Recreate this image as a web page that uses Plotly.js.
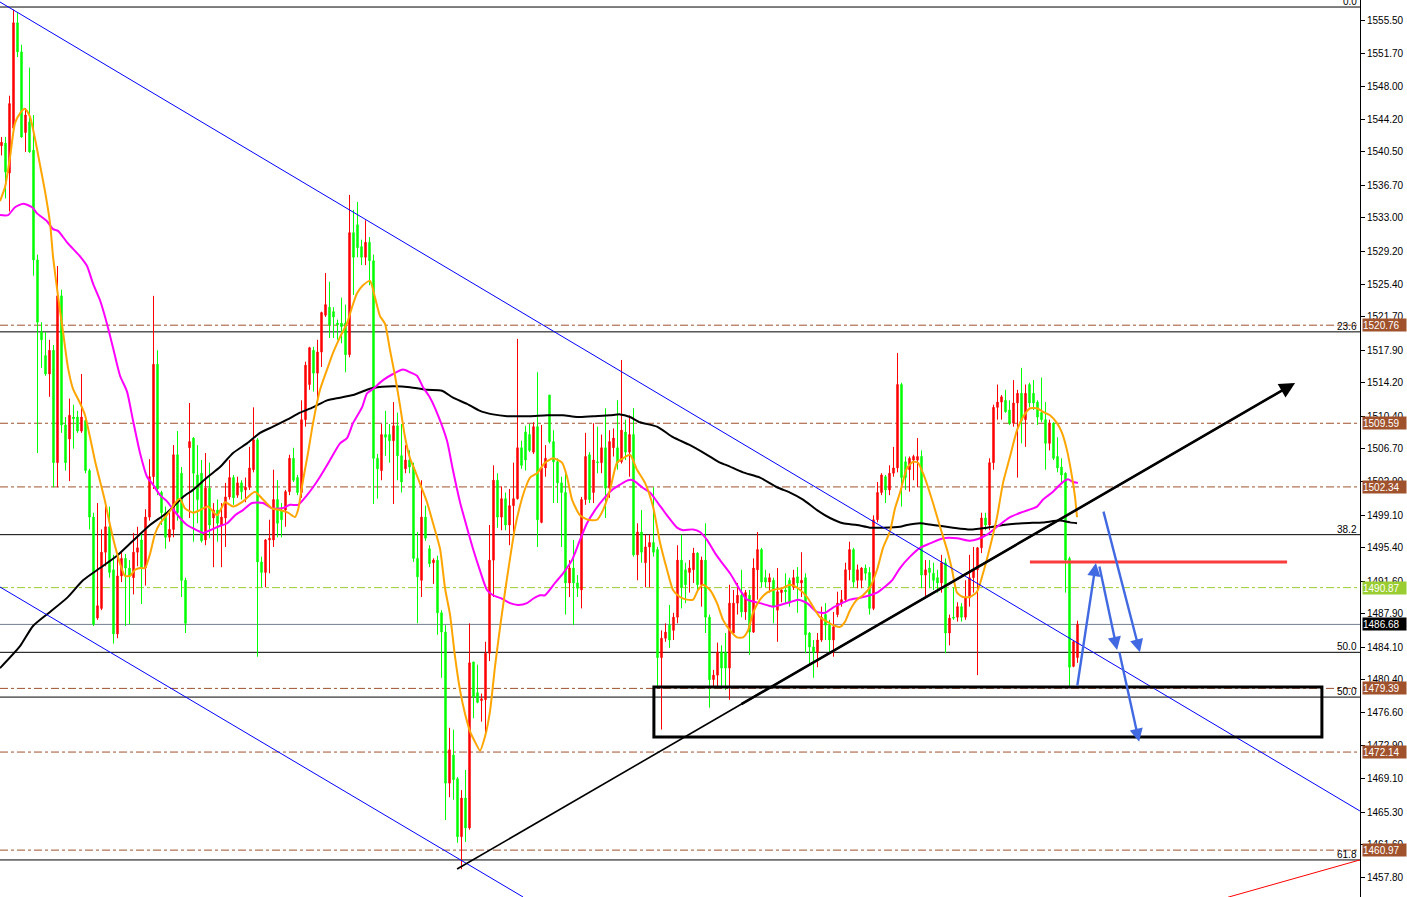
<!DOCTYPE html>
<html><head><meta charset="utf-8">
<script src="https://cdn.plot.ly/plotly-3.0.1.min.js"></script>
<style>html,body{margin:0;padding:0;background:#fff;overflow:hidden}#chart{width:1407px;height:897px}</style>
</head><body><div id="chart"></div>
<script>
const openP = [
1541.2,1541.5,1538.1,1543.2,1555.2,1551.9,1542.7,1543.9,1540.7,1528.2,
1520.0,1517.3,1515.2,1517.9,1505.1,1524.1,1509.4,1507.8,1510.3,1510.3,
1508.7,1509.9,1504.2,1498.9,1487.4,1488.5,1494.9,1497.8,1492.9,1485.6,
1492.2,1494.2,1493.1,1492.0,1494.9,1496.3,1493.1,1498.9,1503.5,1516.3,
1501.7,1499.4,1496.6,1497.5,1506.0,1503.9,1491.7,1506.8,1507.9,1503.7,
1503.9,1496.3,1502.2,1498.8,1499.7,1498.0,1498.8,1501.2,1503.4,1501.4,
1502.8,1502.0,1502.3,1504.3,1507.7,1493.8,1492.6,1496.3,1496.3,1500.9,
1499.7,1499.7,1501.8,1505.6,1503.4,1501.7,1510.0,1514.0,1517.9,1515.3,
1517.7,1521.9,1522.8,1522.3,1521.0,1521.0,1521.0,1517.4,1531.3,1532.2,
1529.7,1528.5,1530.2,1528.1,1505.6,1504.2,1508.3,1508.3,1507.6,1509.3,
1505.9,1504.4,1505.4,1504.6,1494.2,1491.7,1498.9,1495.3,1493.7,1494.0,
1488.0,1485.8,1468.6,1471.8,1469.1,1462.5,1466.9,1463.5,1482.4,1478.9,
1478.0,1478.1,1483.4,1494.0,1503.1,1498.9,1501.0,1498.0,1500.2,1501.0,
1506.8,1508.6,1508.3,1506.3,1509.2,1498.3,1504.5,1512.8,1507.5,1505.2,
1502.8,1501.7,1491.4,1493.1,1491.4,1490.6,1500.9,1506.0,1501.7,1505.2,
1505.1,1506.8,1502.2,1506.8,1506.8,1505.2,1508.6,1506.3,1508.3,1494.6,
1497.2,1493.7,1495.5,1496.0,1495.2,1482.9,1485.1,1486.6,1486.0,1487.5,
1494.0,1492.9,1492.6,1492.9,1494.8,1491.2,1494.0,1487.5,1480.4,1480.9,
1483.5,1483.5,1481.7,1485.7,1489.1,1490.0,1488.1,1490.0,1485.8,1492.9,
1495.2,1492.0,1491.5,1491.7,1488.3,1490.3,1490.6,1491.7,1490.9,1492.1,
1491.4,1492.0,1485.7,1484.1,1483.5,1484.9,1487.8,1486.6,1484.9,1487.8,
1489.1,1489.5,1492.9,1495.2,1491.7,1491.7,1493.1,1492.6,1488.5,1498.6,
1501.7,1503.5,1502.0,1503.9,1504.5,1514.0,1505.2,1504.3,1505.4,1505.4,
1505.8,1492.3,1493.1,1492.5,1492.0,1491.4,1493.7,1485.7,1487.5,1487.5,
1488.7,1487.5,1489.7,1492.0,1492.9,1495.4,1498.8,1498.0,1505.1,1511.4,
1512.0,1512.2,1511.1,1509.6,1511.9,1513.0,1510.0,1514.0,1513.0,1512.0,
1510.8,1510.0,1507.3,1509.6,1505.8,1504.6,1503.9,1494.2,1481.9,1482.9];
const highP = [
1542.2,1542.2,1546.9,1556.7,1556.3,1552.7,1545.5,1550.1,1544.7,1528.8,
1521.1,1520.0,1519.1,1518.5,1527.5,1524.8,1510.3,1512.4,1511.7,1511.0,
1515.2,1510.5,1504.4,1499.4,1500.5,1497.5,1500.7,1500.1,1494.6,1494.7,
1494.9,1494.7,1494.0,1497.1,1497.8,1497.1,1499.8,1505.5,1524.1,1517.9,
1501.9,1500.1,1499.4,1507.1,1508.7,1504.6,1492.0,1511.9,1508.0,1507.1,
1505.4,1506.2,1505.1,1500.5,1500.9,1500.5,1502.8,1505.4,1503.7,1503.5,
1503.1,1503.4,1506.9,1511.4,1507.9,1494.4,1496.4,1498.6,1504.3,1503.1,
1500.5,1502.0,1506.0,1506.8,1503.7,1512.2,1516.6,1518.3,1518.3,1519.1,
1522.3,1526.7,1525.7,1522.8,1521.4,1523.9,1523.1,1535.6,1533.9,1534.8,
1530.5,1532.7,1530.8,1528.8,1506.1,1509.5,1511.0,1509.5,1512.0,1510.8,
1509.5,1507.1,1506.5,1505.1,1497.2,1503.1,1500.2,1495.7,1494.2,1494.5,
1488.3,1486.6,1474.9,1474.7,1469.3,1467.8,1470.1,1486.8,1482.4,1482.1,
1478.8,1484.7,1498.0,1504.8,1503.9,1502.4,1501.7,1502.1,1505.1,1519.2,
1507.6,1509.3,1509.5,1509.7,1515.4,1509.4,1507.1,1512.8,1508.8,1505.6,
1503.5,1503.9,1494.0,1496.3,1492.3,1501.2,1508.5,1506.3,1509.6,1509.2,
1508.3,1511.3,1508.8,1509.0,1512.2,1516.8,1510.0,1510.5,1511.3,1498.2,
1499.7,1496.9,1496.9,1502.3,1495.5,1486.0,1486.8,1488.9,1488.0,1495.7,
1496.9,1493.7,1494.0,1495.4,1494.9,1494.4,1498.2,1487.8,1481.5,1484.6,
1484.3,1485.7,1491.2,1490.6,1491.4,1492.9,1490.6,1490.6,1494.2,1497.2,
1495.4,1492.9,1492.5,1492.0,1493.1,1490.9,1492.5,1492.0,1492.9,1493.2,
1494.9,1492.5,1485.8,1484.9,1485.7,1488.7,1489.1,1487.2,1488.1,1490.4,
1490.6,1493.7,1496.1,1495.4,1493.5,1493.2,1493.5,1493.2,1499.1,1502.9,
1503.9,1503.7,1504.8,1506.9,1517.6,1514.2,1505.8,1505.8,1506.0,1507.9,
1506.5,1494.0,1494.0,1493.7,1492.9,1494.6,1494.2,1487.8,1490.9,1489.2,
1489.1,1491.7,1494.6,1495.5,1495.5,1499.4,1499.4,1505.6,1511.7,1514.0,
1512.8,1513.4,1512.2,1514.5,1513.4,1515.9,1514.0,1514.2,1514.5,1512.2,
1514.8,1512.0,1510.0,1509.7,1508.0,1505.6,1504.0,1494.4,1484.9,1487.1];
const lowP = [
1540.1,1535.2,1533.7,1542.4,1551.3,1542.1,1540.5,1540.4,1526.4,1506.2,
1515.9,1515.0,1512.6,1502.3,1502.3,1508.5,1504.2,1503.0,1506.7,1508.5,
1508.5,1503.9,1497.5,1486.5,1487.2,1488.3,1493.3,1492.0,1484.5,1485.1,
1491.5,1486.5,1486.7,1490.1,1493.3,1489.0,1491.1,1498.5,1502.1,1501.4,
1498.0,1495.3,1496.1,1496.6,1498.5,1489.8,1485.7,1498.8,1496.1,1498.2,
1496.0,1495.7,1496.5,1493.2,1496.1,1493.2,1495.5,1500.9,1500.3,1501.1,
1500.9,1500.6,1502.0,1504.0,1483.0,1490.9,1490.9,1492.5,1495.5,1496.6,
1496.6,1497.8,1501.4,1502.9,1501.4,1501.1,1509.2,1513.4,1513.2,1512.2,
1516.0,1521.7,1519.3,1519.3,1519.1,1518.7,1515.4,1517.1,1524.2,1528.5,
1527.6,1527.6,1525.3,1500.4,1501.0,1503.1,1505.9,1505.1,1500.4,1503.1,
1501.7,1503.9,1503.9,1493.8,1486.8,1489.8,1496.2,1493.2,1491.3,1485.5,
1480.6,1464.4,1467.0,1466.7,1461.8,1458.8,1461.9,1463.3,1476.0,1477.7,
1475.6,1474.4,1482.5,1489.8,1497.7,1497.4,1497.4,1495.7,1497.2,1500.9,
1504.4,1504.2,1506.3,1506.1,1495.5,1498.2,1503.5,1507.3,1500.5,1500.5,
1495.5,1487.8,1489.8,1486.6,1489.8,1488.5,1500.3,1500.5,1500.5,1503.9,
1503.9,1498.8,1501.1,1505.8,1504.3,1505.0,1505.4,1503.5,1494.4,1491.7,
1493.7,1490.9,1490.9,1494.4,1479.6,1474.7,1484.7,1484.0,1484.9,1486.8,
1488.5,1489.1,1490.3,1491.4,1490.6,1488.7,1485.7,1477.2,1479.6,1479.4,
1479.6,1479.2,1478.1,1485.5,1487.8,1487.5,1487.2,1483.2,1485.7,1489.5,
1490.9,1490.9,1490.3,1486.8,1484.7,1489.2,1489.1,1488.7,1490.6,1488.0,
1489.8,1483.4,1482.1,1480.6,1481.8,1484.7,1484.9,1483.5,1483.0,1487.5,
1488.7,1489.2,1491.7,1490.9,1490.8,1490.8,1491.7,1487.8,1488.3,1498.3,
1501.4,1500.5,1501.4,1503.5,1504.0,1500.1,1502.0,1501.8,1503.1,1502.3,
1490.8,1489.8,1490.8,1490.6,1490.3,1490.3,1483.4,1484.3,1487.2,1487.0,
1487.0,1487.2,1488.7,1490.3,1480.9,1494.8,1497.4,1497.4,1504.3,1510.0,
1510.0,1510.8,1509.4,1509.2,1503.4,1507.3,1506.9,1511.4,1511.1,1509.4,
1509.7,1504.3,1506.5,1505.4,1504.0,1502.8,1490.3,1479.6,1481.8,1482.3];
const closeP = [
1541.6,1538.2,1546.0,1555.2,1551.9,1542.2,1544.7,1540.5,1528.2,1521.1,
1519.1,1515.2,1517.9,1505.1,1524.1,1509.4,1505.1,1510.5,1510.1,1508.7,
1510.3,1504.2,1498.9,1486.7,1488.8,1494.9,1497.8,1492.6,1485.6,1492.2,
1494.2,1493.1,1492.2,1494.9,1495.4,1493.1,1498.9,1503.5,1516.3,1502.1,
1499.4,1496.6,1497.5,1506.0,1499.4,1491.7,1486.8,1507.5,1503.9,1500.9,
1496.2,1502.2,1498.0,1499.7,1498.2,1498.9,1501.2,1503.4,1501.1,1502.8,
1501.8,1502.3,1504.5,1507.7,1493.8,1492.6,1496.3,1496.5,1500.9,1498.2,
1498.6,1501.8,1505.6,1503.1,1501.7,1510.0,1516.2,1518.2,1515.3,1517.7,
1522.2,1523.1,1520.8,1521.7,1520.8,1520.6,1517.4,1531.3,1528.5,1529.6,
1528.5,1530.2,1528.1,1505.6,1504.4,1508.3,1508.0,1507.6,1509.3,1505.9,
1502.9,1505.4,1504.6,1494.2,1492.1,1498.9,1496.5,1493.6,1494.0,1488.0,
1485.8,1468.6,1472.4,1469.0,1462.5,1466.9,1463.5,1482.3,1478.4,1477.8,
1478.2,1483.4,1494.0,1503.1,1498.9,1501.0,1498.0,1500.2,1501.0,1506.8,
1504.8,1505.4,1506.5,1509.2,1498.6,1504.5,1505.6,1507.5,1505.2,1502.8,
1501.7,1491.4,1493.1,1491.4,1490.8,1500.9,1505.8,1500.9,1505.4,1505.1,
1506.8,1502.2,1507.5,1507.9,1505.1,1508.8,1506.3,1508.3,1494.6,1497.2,
1494.9,1495.5,1496.0,1494.9,1482.9,1485.1,1485.8,1484.9,1487.5,1494.0,
1490.9,1491.2,1493.1,1494.8,1491.2,1494.0,1487.5,1480.4,1480.9,1483.5,
1481.7,1481.7,1489.1,1489.1,1490.0,1488.1,1490.3,1485.8,1493.1,1495.2,
1491.5,1491.5,1492.0,1488.7,1490.4,1490.6,1490.4,1489.2,1492.0,1491.4,
1491.7,1485.5,1484.1,1483.5,1484.9,1487.5,1486.6,1484.9,1486.4,1489.1,
1489.5,1492.9,1495.2,1491.5,1492.9,1493.1,1492.5,1488.5,1498.6,1501.7,
1503.7,1502.0,1503.9,1504.5,1514.0,1503.4,1503.4,1505.6,1505.8,1505.8,
1492.3,1492.9,1492.6,1491.7,1491.4,1493.7,1485.7,1487.4,1487.4,1488.7,
1487.5,1489.7,1492.0,1492.9,1495.4,1498.8,1498.0,1505.1,1511.4,1512.0,
1512.6,1510.9,1509.6,1511.9,1513.0,1509.9,1513.0,1511.9,1511.9,1510.3,
1510.0,1507.3,1509.6,1505.6,1504.5,1503.7,1494.0,1481.8,1484.7,1486.68];

// moving averages (bar index, price)
const maFastX = [-0.38,0.88,2.13,3.38,4.63,5.88,7.13,8.38,9.63,10.88,12.13,12.88,14.13,15.38,16.63,17.88,19.63,20.88,22.13,23.38,24.63,25.88,27.13,28.38,29.63,30.88,32.13,33.38,34.63,35.88,37.13,38.38,39.63,40.88,42.13,43.38,44.63,45.88,47.88,49.63,51.63,53.88,55.88,57.88,60.13,62.13,63.38,65.38,67.63,69.63,71.63,73.38,74.13,75.38,76.63,77.88,79.63,81.38,82.88,84.63,86.38,87.63,88.88,90.38,92.13,93.38,94.63,95.88,97.13,98.38,99.63,100.88,102.13,103.38,104.63,106.38,107.88,109.63,110.88,112.13,113.38,114.63,115.88,117.13,118.38,119.63,120.88,122.13,123.38,124.63,125.88,127.13,128.38,129.63,130.88,132.13,133.88,135.88,137.88,140.13,141.38,142.63,144.63,146.63,148.88,150.38,152.13,153.88,155.38,157.13,158.88,160.88,162.88,164.63,166.38,167.88,169.63,171.38,172.88,174.13,175.38,177.13,178.88,180.38,182.13,183.88,185.38,186.63,187.88,189.63,191.38,192.88,195.13,197.13,199.13,201.38,202.88,204.63,206.38,207.88,209.63,210.88,212.13,213.88,215.38,217.13,218.88,220.38,222.13,223.38,224.63,226.38,227.88,229.13,230.38,231.63,232.88,234.63,236.38,237.63,238.88,240.38,242.13,243.88,245.38,247.13,248.88,250.38,252.13,253.88,255.38,257.13,258.88,260.38,262.13,263.88,265.13,266.38,267.63,268.38,268.88];
const maFastY = [1534.9,1536.5,1539.9,1543.8,1544.9,1545.4,1544.5,1542.0,1539.0,1536.0,1532.4,1528.6,1524.1,1520.0,1515.9,1513.5,1511.9,1510.5,1508.0,1505.3,1503.0,1500.7,1498.0,1495.6,1493.6,1492.2,1492.2,1492.9,1493.1,1493.1,1494.7,1497.0,1498.2,1498.9,1499.6,1500.5,1501.0,1499.9,1499.4,1499.7,1500.1,1499.1,1500.6,1500.1,1500.6,1501.4,1501.8,1500.9,1499.9,1499.7,1499.4,1498.9,1499.7,1503.1,1506.2,1509.6,1513.4,1515.7,1517.6,1519.4,1521.0,1522.8,1524.4,1525.3,1525.8,1523.9,1521.8,1520.9,1517.9,1515.0,1511.6,1508.0,1505.6,1504.2,1502.7,1500.6,1498.2,1495.3,1490.8,1487.8,1483.0,1479.2,1476.5,1474.5,1473.3,1472.3,1473.9,1476.8,1481.9,1486.3,1490.4,1494.2,1497.7,1500.2,1502.1,1503.4,1503.9,1505.1,1505.6,1505.1,1503.5,1500.9,1499.1,1498.6,1498.6,1499.7,1502.0,1505.1,1505.6,1506.0,1504.3,1502.8,1500.1,1496.0,1492.9,1490.6,1489.8,1489.5,1489.5,1490.6,1491.2,1490.6,1489.1,1487.2,1486.0,1485.2,1485.2,1486.0,1488.0,1489.5,1490.3,1490.6,1490.8,1491.2,1490.8,1489.8,1488.7,1487.5,1487.0,1486.6,1486.4,1487.0,1488.3,1489.5,1490.0,1490.9,1492.9,1495.4,1497.3,1499.9,1501.7,1504.5,1505.2,1505.1,1503.9,1502.3,1500.5,1497.8,1495.2,1492.9,1490.3,1489.8,1489.8,1490.4,1492.5,1495.5,1498.9,1502.8,1505.8,1508.8,1510.3,1511.3,1511.3,1510.9,1510.5,1509.6,1508.5,1506.5,1503.5,1501.2,1498.9];
const maMidX = [-0.38,1.63,3.38,5.38,7.63,8.88,11.38,12.88,14.13,16.38,19.63,21.38,22.88,24.63,26.38,27.88,29.63,31.38,32.88,34.63,36.38,37.88,39.63,41.38,42.88,44.63,46.38,48.88,50.38,52.13,54.13,56.38,58.38,60.38,62.63,65.38,67.63,70.13,72.13,74.13,76.38,77.88,79.63,82.13,84.63,86.38,87.88,90.13,91.38,92.88,95.38,97.88,100.38,102.13,103.88,105.38,107.13,109.13,111.38,112.88,114.63,116.38,117.88,119.63,121.38,122.88,125.13,127.13,129.13,131.38,132.88,134.63,135.88,138.38,140.38,142.63,144.63,146.38,148.38,150.38,152.63,154.63,156.63,157.88,160.13,162.13,164.13,166.38,168.88,170.38,172.88,174.63,176.38,178.38,179.63,182.13,184.63,186.38,189.63,192.88,194.63,197.13,199.13,201.38,203.88,205.88,207.88,210.13,212.13,214.63,217.13,218.88,220.38,222.63,224.63,227.13,229.63,232.13,235.38,238.88,242.13,244.13,246.38,248.88,252.13,255.38,258.88,260.38,262.88,265.13,266.63,267.88,269.13];
const maMidY = [1533.3,1533.3,1534.2,1534.6,1534.2,1533.5,1532.6,1531.7,1531.5,1530.2,1528.6,1527.5,1525.5,1523.6,1520.9,1518.2,1515.0,1513.2,1509.9,1506.2,1503.5,1502.6,1501.4,1500.7,1499.8,1498.8,1498.0,1497.4,1497.1,1497.4,1497.8,1498.2,1499.1,1499.7,1500.5,1500.5,1499.9,1499.9,1500.3,1500.3,1501.4,1502.3,1503.5,1505.4,1507.3,1507.9,1509.6,1511.4,1513.0,1513.5,1514.5,1515.2,1515.7,1515.4,1515.0,1513.7,1512.5,1510.5,1507.6,1504.2,1500.6,1497.7,1495.3,1492.8,1490.6,1490.0,1489.6,1489.1,1488.9,1489.1,1489.6,1490.0,1490.0,1491.4,1492.5,1494.0,1496.3,1498.2,1499.7,1500.9,1502.0,1502.6,1503.1,1503.1,1502.3,1501.7,1500.5,1499.1,1497.7,1497.4,1497.5,1497.2,1496.3,1494.8,1494.0,1492.5,1490.6,1489.5,1489.1,1488.7,1488.9,1489.2,1489.5,1489.1,1488.1,1488.0,1488.6,1489.1,1489.5,1489.7,1490.0,1490.3,1490.8,1491.7,1493.1,1494.4,1495.4,1495.9,1496.5,1496.5,1496.2,1496.4,1496.9,1497.8,1498.9,1499.5,1500.1,1500.9,1501.8,1502.8,1503.2,1502.9,1502.8];
const maSlowX = [-0.38,4.63,7.88,12.13,16.38,20.38,24.63,28.88,32.88,37.13,41.38,45.38,47.88,51.38,54.63,57.88,61.38,64.63,67.88,71.38,74.63,77.88,81.38,84.63,87.88,91.38,92.88,97.88,102.13,106.38,110.13,112.88,116.38,119.63,122.88,126.38,129.63,132.13,136.38,140.38,143.88,147.88,152.13,154.63,157.13,159.63,163.88,167.88,172.13,176.38,179.63,181.38,185.38,189.63,193.88,197.13,200.38,203.88,207.13,210.38,213.88,217.13,220.38,224.63,226.38,229.63,232.88,237.88,242.13,246.38,250.38,255.38,260.38,264.63,267.13,268.88];
const maSlowY = [1481.7,1484.2,1486.5,1488.1,1489.7,1491.7,1493.1,1494.5,1496.2,1498.0,1499.4,1501.2,1502.0,1503.4,1504.6,1506.2,1507.3,1508.5,1509.2,1510.0,1510.8,1511.4,1512.2,1512.5,1512.8,1513.4,1513.6,1513.8,1513.7,1513.4,1513.3,1512.5,1511.8,1511.0,1510.6,1510.4,1510.4,1510.4,1510.5,1510.5,1510.3,1510.4,1510.5,1510.6,1510.3,1509.7,1509.2,1508.0,1507.1,1506.0,1505.1,1504.8,1504.0,1503.4,1502.3,1501.7,1500.9,1499.7,1498.8,1498.2,1498.0,1497.7,1497.7,1497.8,1498.0,1498.2,1498.0,1497.7,1497.5,1497.7,1498.0,1498.2,1498.3,1498.5,1498.3,1498.2];

const tickVals = [1555.50,1551.70,1548.00,1544.20,1540.50,1536.70,1533.00,1529.20,1525.40,1521.70,1517.90,1514.20,1510.40,1506.70,1502.90,1499.10,1495.40,1491.60,1487.90,1484.10,1480.40,1476.60,1472.90,1469.10,1465.30,1461.60,1457.80];
const fibLevels = [1557.0,1520.0,1496.9,1483.5,1478.4,1459.85];
const fibLabels = ['0.0','23.6','38.2','50.0','50.0','61.8'];
const brownLevels = [1520.76,1509.59,1502.34,1479.39,1472.14,1460.97];
const greenLevel = 1490.87;
const bidLevel = 1486.68;

const idx = openP.map((_, i) => i);
const BROWN = 'rgb(160,82,45)';
const BLUE_ARROW = 'rgb(65,105,225)';

const traces = [
  {type:'candlestick', x: idx, open: openP, high: highP, low: lowP, close: closeP,
   increasing:{line:{color:'#ff0000', width:1}, fillcolor:'#ff0000'},
   decreasing:{line:{color:'#00ff00', width:1}, fillcolor:'#00ff00'},
   whiskerwidth:0, hoverinfo:'skip', showlegend:false},
  {type:'scatter', mode:'lines', x: maSlowX, y: maSlowY, line:{color:'#000000', width:2, shape:'spline', smoothing:0.6}, hoverinfo:'skip', showlegend:false},
  {type:'scatter', mode:'lines', x: maMidX, y: maMidY, line:{color:'#ff00ff', width:2, shape:'spline', smoothing:0.6}, hoverinfo:'skip', showlegend:false},
  {type:'scatter', mode:'lines', x: maFastX, y: maFastY, line:{color:'#ffa500', width:2, shape:'spline', smoothing:0.6}, hoverinfo:'skip', showlegend:false}
];

const shapes = [];
fibLevels.forEach(v => shapes.push({type:'line', xref:'paper', x0:0, x1:1, yref:'y', y0:v, y1:v, line:{color:'#000', width:1}, layer:'below'}));
brownLevels.forEach(v => shapes.push({type:'line', xref:'paper', x0:0, x1:1, yref:'y', y0:v, y1:v, line:{color:BROWN, width:1, dash:'8px,3px,3px,3px'}, layer:'below'}));
shapes.push({type:'line', xref:'paper', x0:0, x1:1, yref:'y', y0:greenLevel, y1:greenLevel, line:{color:'rgb(154,205,50)', width:1, dash:'8px,3px,3px,3px'}, layer:'below'});
shapes.push({type:'line', xref:'paper', x0:0, x1:1, yref:'y', y0:bidLevel, y1:bidLevel, line:{color:'rgb(112,128,144)', width:1}, layer:'below'});
// channel lines
shapes.push({type:'line', xref:'x', yref:'y', x0:-0.375, y0:1557.57, x1:339.6, y1:1465.43, line:{color:'#0000ff', width:1}});
shapes.push({type:'line', xref:'x', yref:'y', x0:-0.375, y0:1490.94, x1:130.4, y1:1455.63, line:{color:'#0000ff', width:1}});
// up trend line
shapes.push({type:'line', xref:'x', yref:'y', x0:113.9, y0:1458.82, x1:322.0, y1:1513.8, line:{color:'#000', width:1.6}});
// zone rectangle
shapes.push({type:'rect', xref:'x', yref:'y', x0:163.1, x1:330.1, y0:1473.86, y1:1479.55, line:{color:'#000', width:3}, fillcolor:'rgba(0,0,0,0)'});
// red resistance line
shapes.push({type:'line', xref:'x', yref:'y', x0:257.1, x1:321.4, y0:1493.79, y1:1493.79, line:{color:'rgb(250,60,60)', width:3}});
// red line bottom right
shapes.push({type:'line', xref:'x', yref:'y', x0:306.6, y0:1455.6, x1:339.6, y1:1459.85, line:{color:'#ff0000', width:1}});

const annotations = [];
fibLevels.forEach((v, k) => annotations.push({xref:'paper', x:1, xanchor:'right', xshift:-1, yref:'y', y:v, yanchor:'bottom', yshift:-2, text:fibLabels[k], showarrow:false, font:{family:'Liberation Sans', size:10, color:'#000'}}));
function priceBox(v, bg){
  annotations.push({xref:'paper', x:1, xanchor:'left', xshift:2, yref:'y', y:v, yanchor:'middle', text:v.toFixed(2), showarrow:false, bgcolor:bg, width:43, height:12, borderpad:0, align:'left', font:{family:'Liberation Sans', size:10, color:'#fff'}});
}
brownLevels.forEach(v => priceBox(v, BROWN));
priceBox(greenLevel, 'rgb(154,205,50)');
priceBox(bidLevel, '#000');
// thick trend continuation with arrow head
annotations.push({x:323.4, y:1514.18, xref:'x', yref:'y', ax:184.6, ay:1477.5, axref:'x', ayref:'y', showarrow:true, arrowhead:2, arrowsize:1.2, arrowwidth:2.6, arrowcolor:'#000', text:''});
// blue scenario arrows
[[273.6,1493.67,268.9,1479.55],[278.9,1483.77,274.4,1493.45],[284.6,1483.5,275.4,1499.7],[284.4,1473.3,279.4,1483.65]].forEach(a => {
  annotations.push({x:a[0], y:a[1], xref:'x', yref:'y', ax:a[2], ay:a[3], axref:'x', ayref:'y', showarrow:true, arrowhead:2, arrowsize:1.1, arrowwidth:2.4, arrowcolor:BLUE_ARROW, text:''});
});

const layout = {
  width:1407, height:897,
  margin:{l:0, r:47, t:0, b:0, pad:0},
  paper_bgcolor:'#ffffff', plot_bgcolor:'#ffffff',
  showlegend:false, boxgap:0.5,
  xaxis:{range:[-0.375, 339.625], visible:false, showgrid:false, zeroline:false, rangeslider:{visible:false}, fixedrange:true},
  yaxis:{range:[1455.63, 1557.8], side:'right', showgrid:false, zeroline:false, showline:true, linecolor:'#000', linewidth:1,
         ticks:'outside', ticklen:4, tickcolor:'#000', tickvals:tickVals, ticktext:tickVals.map(v => v.toFixed(2)),
         tickfont:{family:'Liberation Sans', size:10, color:'#000'}, automargin:false, fixedrange:true},
  shapes: shapes,
  annotations: annotations
};

Plotly.newPlot('chart', traces, layout, {displayModeBar:false, staticPlot:true});
</script>
</body></html>
